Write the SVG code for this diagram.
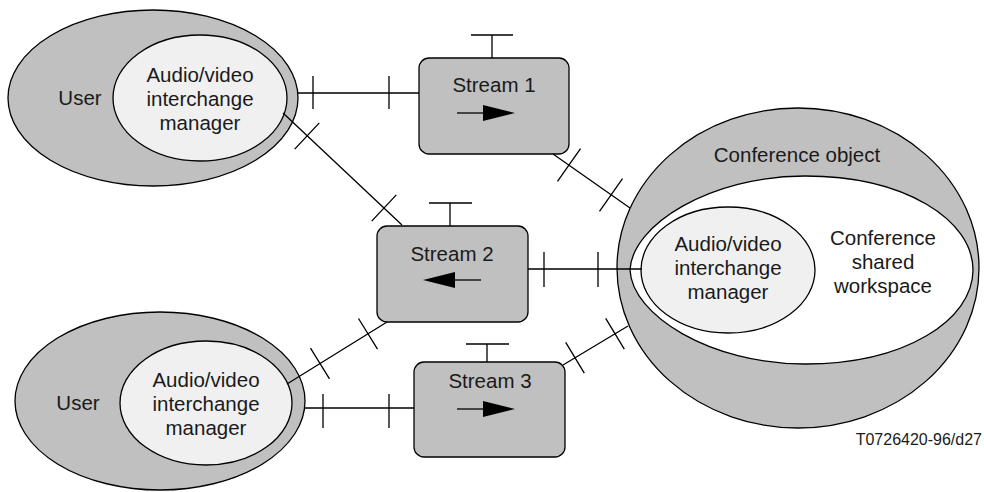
<svg xmlns="http://www.w3.org/2000/svg" width="984" height="492" viewBox="0 0 984 492">
<style>
.ln{stroke:#000;stroke-width:1.3;fill:none}
.outer{fill:#c0c0c0;stroke:#000;stroke-width:1.3}
.inner{fill:#f0f0f0;stroke:#000;stroke-width:1.3}
.ws{fill:#fff;stroke:#000;stroke-width:1.3}
.box{fill:#c0c0c0;stroke:#000;stroke-width:1.3}
text{font-family:"Liberation Sans",Arial,sans-serif;font-size:20.5px;fill:#1a1a1a;text-anchor:middle}
.lbl{font-size:16px;text-anchor:end}
</style>
<rect width="984" height="492" fill="#fff"/>
<g id="user1">
<ellipse class="outer" cx="153" cy="98" rx="145" ry="88"/>
<text x="80" y="105">User</text>
</g>
<g id="avim1">
<ellipse class="inner" cx="200" cy="98" rx="87" ry="63"/>
<text x="200" y="82">Audio/video</text>
<text x="200" y="106">interchange</text>
<text x="200" y="130">manager</text>
</g>
<g id="user2">
<ellipse class="outer" cx="160" cy="401" rx="145" ry="89"/>
<text x="78" y="410">User</text>
</g>
<g id="avim2">
<ellipse class="inner" cx="206" cy="403" rx="86" ry="62"/>
<text x="206" y="387">Audio/video</text>
<text x="206" y="411">interchange</text>
<text x="206" y="435">manager</text>
</g>
<g id="conference">
<ellipse class="outer" cx="798" cy="268" rx="181" ry="160"/>
<text x="797" y="162">Conference object</text>
</g>
<g id="workspace">
<path class="ws" d="M630 270C632 225 710 176 805 176C905 176 973 220 973 270C973 320 905 364 805 364C710 364 632 315 630 270Z"/>
<text x="883" y="245">Conference</text>
<text x="883" y="269">shared</text>
<text x="883" y="293">workspace</text>
</g>
<g id="avim3">
<ellipse class="inner" cx="728" cy="270" rx="87" ry="63"/>
<text x="728" y="251">Audio/video</text>
<text x="728" y="275">interchange</text>
<text x="728" y="299">manager</text>
</g>
<g id="stream1">
<rect class="box" x="419" y="58" width="150" height="96" rx="10"/>
<path class="ln" d="M492 35V58M471 35H513"/>
<text x="494" y="92">Stream 1</text>
<path class="ln" d="M457 113H485"/>
<polygon points="483,105 515,113 483,121" fill="#000"/>
</g>
<g id="stream2">
<rect class="box" x="377" y="226" width="151" height="96" rx="10"/>
<path class="ln" d="M450 203V226M429 203H472"/>
<text x="452" y="261">Stream 2</text>
<path class="ln" d="M453 280H481"/>
<polygon points="423,280 455,272 455,288" fill="#000"/>
</g>
<g id="stream3">
<rect class="box" x="414" y="362" width="151" height="95" rx="10"/>
<path class="ln" d="M487 344V362M466 344H509"/>
<text x="490" y="388">Stream 3</text>
<path class="ln" d="M457 409H485"/>
<polygon points="483,401 515,409 483,417" fill="#000"/>
</g>
<g id="connectors">
<path class="ln" d="M298 93H419M313 76V109M389 76V109"/>
<path class="ln" d="M283 113L402 225M294.7 149.1L319.3 122.9M371.7 221.1L396.3 194.9"/>
<path class="ln" d="M553 154L630 208M557.5 181.4L580.5 148.6M599.5 211.4L622.5 178.6"/>
<path class="ln" d="M528 269H642M544 252V287M598 252V287"/>
<path class="ln" d="M387 322L287 384M358.5 318.5L377.5 349.1M310.5 348.2L329.5 378.8"/>
<path class="ln" d="M305 408H414M323 394V428M389 394V428"/>
<path class="ln" d="M563 365L628 326M565.7 342.4L584.3 373.2M605.7 318.4L624.3 349.2"/>
</g>
<text class="lbl" x="982" y="445">T0726420-96/d27</text>
</svg>
